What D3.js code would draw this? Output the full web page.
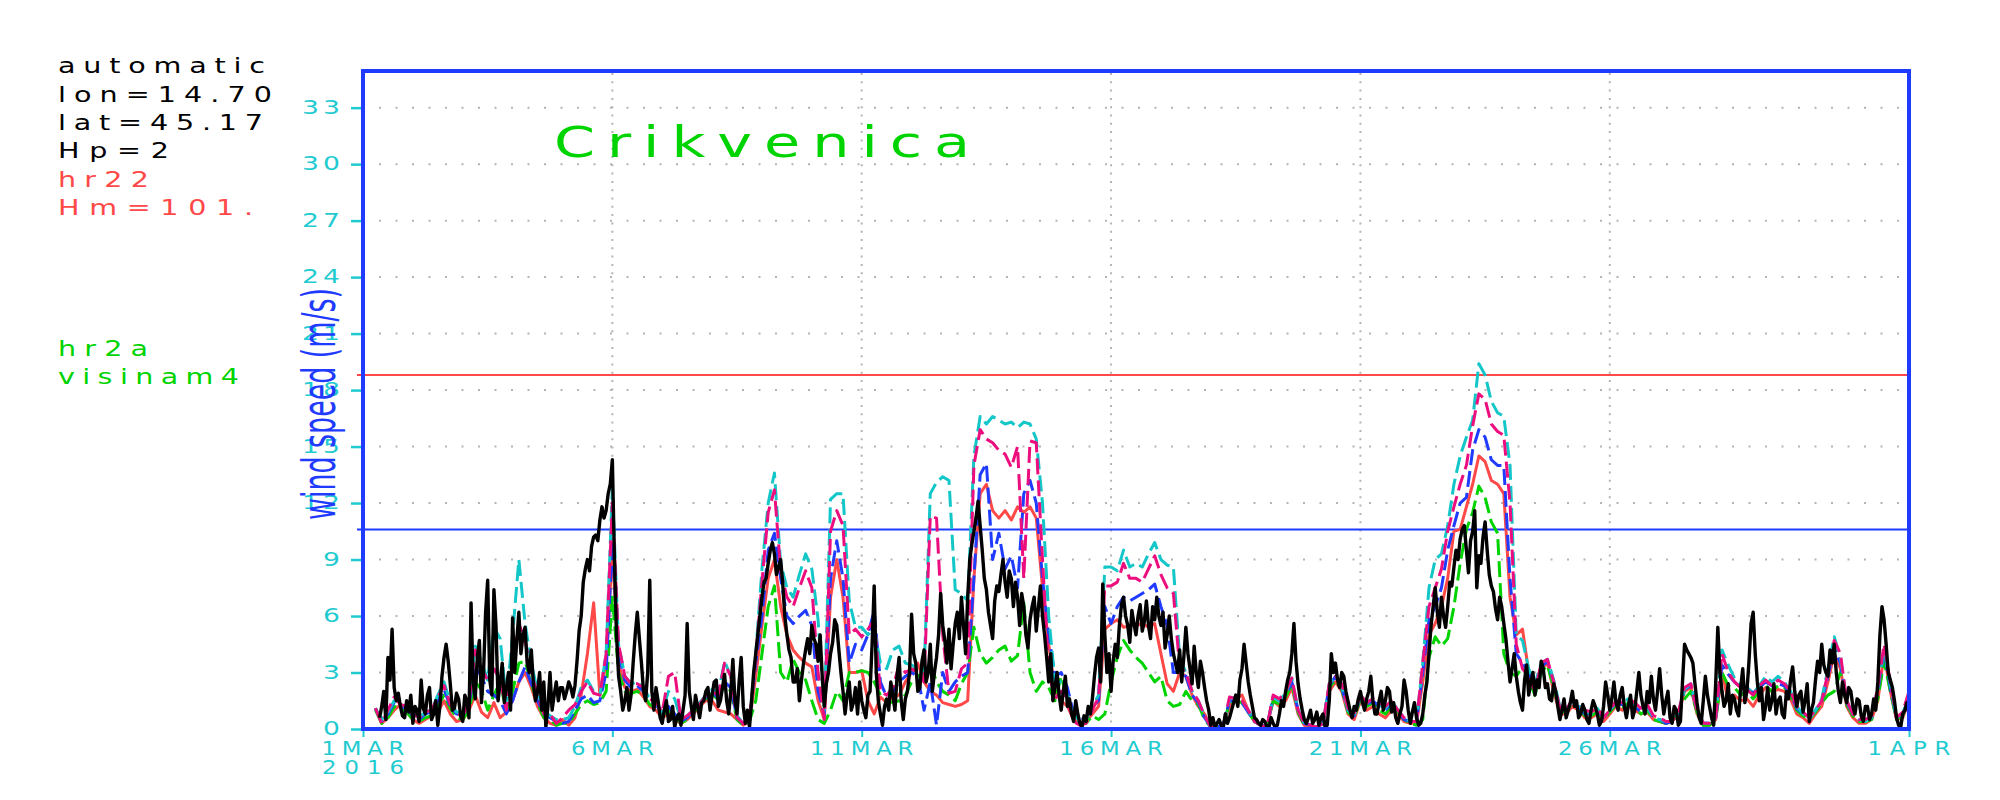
<!DOCTYPE html>
<html><head><meta charset="utf-8">
<script src="https://cdn.jsdelivr.net/npm/d3@7"></script>
<style>body{margin:0;background:#fff}svg{display:block}</style>
</head><body>
<svg id="chart" width="2000" height="800"></svg>
<script>
// ---------------- data ----------------
const titleText = "Crikvenica";
const yLabelText = "wind speed (m/s)";
const infoLines = ["automatic", "lon=14.70", "lat=45.17", "Hp=2", "hr22", "Hm=101."];
const modelNames = ["hr2a", "visinam4"];
const xTickDates = ["2016-03-01", "2016-03-06", "2016-03-11", "2016-03-16", "2016-03-21", "2016-03-26", "2016-04-01"];
const xTickLabels = ["1MAR", "6MAR", "11MAR", "16MAR", "21MAR", "26MAR", "1APR"];
const yearLabel = "2016";
const yTicks = [0, 3, 6, 9, 12, 15, 18, 21, 24, 27, 30, 33];
const thresholdValues = [18.8, 10.6];
const modelStart = "2016-03-01T06:00:00Z";
const modelStepHours = 3;
const obsStart = "2016-03-01T08:00:00Z";
const obsStepHours = 1;

const red = [
1.1,0.3,0.6,1.0,1.3,0.9,
0.5,0.3,0.5,0.7,0.9,1.5,0.8,0.4,
0.5,1.0,1.8,0.9,0.6,1.4,0.6,0.9,
1.5,2.5,3.0,2.2,1.2,0.6,0.3,0.2,
0.5,0.2,0.6,1.8,4.0,6.7,1.8,3.5,
9.5,3.5,2.2,2.0,2.1,1.7,1.2,1.0,
0.6,0.8,0.5,0.3,0.5,0.8,1.2,1.5,
1.5,1.0,0.9,0.8,0.5,0.2,0.4,2.8,
5.5,8.0,9.0,6.5,5.0,4.2,3.8,3.5,
3.3,1.5,0.5,7.0,9.0,7.0,3.0,3.0,
3.1,1.5,0.8,1.7,1.4,1.7,1.8,2.5,
3.0,3.5,2.5,2.0,1.8,1.4,1.3,1.2,
1.3,1.5,8.0,12.5,13.0,11.6,11.2,11.6,
11.1,11.8,11.5,11.8,11.2,7.5,4.5,2.0,
1.5,1.2,0.5,0.3,0.4,0.8,1.2,5.3,
5.6,5.8,5.4,5.5,5.5,5.6,5.4,5.6,
4.0,2.4,2.0,3.0,2.8,1.8,1.2,0.8,
0.1,0.1,0.2,1.2,1.6,1.8,1.0,0.4,
0.2,0.1,1.5,1.2,1.5,2.2,0.8,0.2,
0.1,0.1,0.3,2.0,2.5,2.0,0.8,0.5,
1.5,1.0,1.2,0.8,0.6,1.0,0.8,0.4,
0.3,0.3,2.5,5.0,5.6,6.5,8.0,10.5,
10.6,11.8,13.0,14.5,14.2,13.2,13.0,12.5,
7.0,5.0,5.3,3.0,2.0,3.2,3.5,2.0,
0.8,0.8,1.2,1.0,0.6,0.6,0.8,0.4,
0.8,1.2,1.0,1.2,1.0,0.8,0.9,0.5,
0.4,0.3,0.4,0.8,2.0,2.2,0.8,0.2,
0.2,0.5,3.0,1.5,1.8,1.5,1.6,1.2,
1.8,2.2,2.0,2.1,2.0,1.6,0.8,0.6,
0.3,0.8,1.2,2.5,4.0,3.2,1.2,0.6,
0.3,0.3,0.5,1.5,4.0,2.0,0.5,0.6,
1.5];

const blue = [
1.1,0.4,0.8,1.4,1.2,1.1,
0.7,0.5,0.8,0.9,1.5,2.1,1.2,0.8,
0.7,1.3,3.3,2.8,2.0,1.8,1.5,0.8,
1.5,2.5,3.3,2.4,1.5,0.8,0.6,0.4,
0.3,0.4,1.0,1.6,1.8,1.4,1.5,3.0,
10.0,4.0,2.6,2.2,2.3,2.0,1.5,1.3,
0.8,1.2,0.8,0.4,0.6,1.0,1.3,1.7,
2.0,1.6,2.5,2.2,0.6,0.3,0.5,3.5,
6.0,9.5,10.4,8.0,6.0,5.6,6.0,6.3,
5.5,2.0,0.8,8.0,10.0,8.0,3.5,4.5,
4.2,5.0,6.3,2.5,1.7,2.0,2.5,2.8,
3.0,2.8,1.0,2.5,0.2,3.0,2.0,2.5,
2.8,3.0,8.0,13.5,14.1,9.0,10.4,8.5,
9.2,7.5,12.5,13.2,12.0,8.0,5.0,2.8,
3.0,2.2,0.8,0.5,0.6,1.2,1.5,6.5,
5.6,6.5,7.0,6.8,7.0,7.2,7.4,7.7,
6.5,5.5,3.0,3.0,2.8,1.8,1.4,0.6,
0.1,0.1,0.2,1.5,1.5,1.4,0.9,0.4,
0.2,0.1,1.7,1.5,1.8,2.5,1.0,0.3,
0.2,0.1,0.3,2.3,2.8,2.2,1.0,0.7,
1.7,1.3,1.5,1.2,1.0,1.4,1.0,0.5,
0.4,0.4,3.0,5.8,6.5,7.5,9.5,10.8,
12.0,12.3,14.8,15.9,15.5,14.3,14.0,14.0,
8.0,4.0,3.5,3.0,2.2,3.3,3.6,2.5,
1.0,1.0,1.5,1.2,0.8,0.8,1.0,0.6,
1.0,1.4,1.3,1.5,1.2,0.9,1.2,0.6,
0.5,0.3,0.4,0.8,2.1,2.3,1.0,0.3,
0.3,0.6,3.4,2.9,2.5,2.2,2.2,1.9,
2.2,2.5,2.3,2.4,2.3,1.9,1.1,0.8,
0.6,1.0,1.5,2.8,4.3,3.5,1.4,0.8,
0.5,0.5,0.6,2.0,4.2,2.2,0.6,0.8,
1.7];

const magenta = [
1.1,0.3,1.0,1.7,1.3,1.2,
0.8,0.6,0.9,1.0,1.7,2.3,1.3,0.8,
0.7,1.4,4.2,3.2,2.6,3.2,2.6,1.0,
3.5,5.6,4.7,3.0,1.8,0.8,0.8,0.3,
0.6,1.0,1.3,2.0,2.5,1.9,1.8,4.0,
12.0,4.5,2.8,2.4,2.4,2.2,1.6,1.4,
0.9,2.8,3.0,0.5,0.7,1.0,1.3,1.8,
2.0,1.8,3.5,2.8,0.6,0.3,0.5,3.8,
7.8,11.5,12.7,8.4,7.0,6.5,7.5,8.4,
7.5,3.0,0.5,10.5,11.6,10.8,5.0,5.3,
4.9,5.3,5.8,2.0,1.8,2.2,3.4,3.0,
3.2,3.0,2.5,11.3,11.2,5.0,1.9,2.0,
3.2,3.5,14.0,15.9,15.4,15.2,14.8,14.6,
13.9,15.0,8.0,15.3,15.2,9.0,3.0,1.6,
2.0,1.5,0.4,0.2,0.3,1.0,1.7,7.6,
7.6,7.8,8.8,8.0,8.0,7.8,8.5,9.2,
8.2,7.5,7.2,3.3,3.0,2.0,1.5,0.7,
0.1,0.1,0.2,1.7,1.6,1.5,1.0,0.4,
0.2,0.1,1.8,1.6,2.0,2.7,1.0,0.3,
0.2,0.1,0.3,2.4,2.8,2.4,1.1,0.8,
1.8,1.4,1.6,1.4,1.2,1.5,1.0,0.6,
0.4,0.4,3.5,6.5,7.5,8.5,10.5,11.8,
13.0,14.0,16.1,17.8,17.5,16.2,15.8,15.6,
12.0,4.5,3.2,2.8,2.0,3.5,3.7,2.5,
1.1,1.0,1.6,1.3,1.0,0.9,1.1,0.6,
1.0,1.5,1.4,1.6,1.4,1.1,1.3,0.7,
0.6,0.4,0.4,0.9,2.2,2.4,1.0,0.3,
0.3,0.6,4.0,3.0,2.5,2.2,2.1,1.8,
2.3,2.6,2.3,2.6,2.4,2.0,1.2,0.9,
0.6,1.0,1.5,3.0,4.7,4.0,1.5,0.8,
0.5,0.5,0.7,2.2,4.5,2.5,0.6,0.9,
2.0];

const cyan = [
1.1,0.5,0.9,1.5,1.3,1.2,
0.8,0.6,0.9,1.0,1.8,2.5,1.4,0.9,
0.8,1.5,4.4,3.6,2.6,5.4,4.8,1.5,
5.0,9.0,5.6,3.5,2.0,1.0,0.7,0.5,
0.5,0.6,1.2,2.2,2.6,2.0,1.8,4.0,
12.8,4.5,2.8,2.4,2.5,2.2,1.6,1.4,
0.9,2.0,1.6,0.5,0.7,1.0,1.4,1.8,
2.1,1.9,3.6,2.8,0.7,0.3,0.5,4.0,
8.5,12.0,13.6,8.8,7.5,7.0,8.2,9.3,
8.5,5.8,1.0,12.2,12.5,12.5,6.8,5.4,
5.4,5.0,5.4,3.5,3.2,4.2,4.4,3.5,
3.4,3.2,3.0,12.5,13.1,13.4,13.2,7.4,
7.2,6.8,14.5,16.6,16.2,16.6,16.4,16.2,
16.3,16.0,16.3,16.2,15.4,12.0,6.0,2.5,
2.5,1.8,0.8,0.4,0.5,1.2,1.8,8.6,
8.6,8.4,9.5,8.6,8.8,8.6,9.3,9.9,
9.0,8.7,8.6,3.8,3.0,2.0,1.5,0.7,
0.1,0.1,0.2,1.6,1.7,1.5,1.0,0.4,
0.2,0.1,1.7,1.5,1.9,2.7,1.0,0.3,
0.2,0.1,0.3,2.4,2.8,2.3,1.0,0.7,
1.8,1.4,1.6,1.3,1.1,1.5,1.0,0.6,
0.4,0.4,3.5,7.5,9.0,9.3,10.8,13.0,
14.5,15.5,16.4,19.4,18.8,17.4,16.8,16.6,
14.0,5.0,4.7,3.2,2.4,3.5,3.7,2.6,
1.2,1.0,1.5,1.3,0.9,0.8,1.1,0.6,
1.0,1.5,1.4,1.6,1.3,1.0,1.2,0.6,
0.5,0.4,0.4,0.9,2.1,2.4,1.0,0.3,
0.3,0.6,4.2,3.4,2.7,2.3,2.2,1.9,
2.3,2.8,2.5,2.8,2.5,2.0,1.2,0.8,
0.5,1.0,1.6,3.2,4.9,3.8,1.5,0.8,
0.5,0.4,0.6,2.2,4.3,2.4,0.6,0.8,
1.8];

const green = [
1.0,0.3,0.6,1.2,1.1,0.9,
0.5,0.4,0.6,0.7,1.2,1.8,1.1,0.6,
0.5,1.0,2.5,2.1,1.0,1.8,2.5,0.9,
2.0,3.5,3.6,2.4,1.4,0.6,0.5,0.2,
0.3,0.3,0.8,1.3,1.5,1.3,1.4,2.0,
7.0,3.0,2.0,1.9,2.0,1.8,1.3,1.1,
0.7,1.0,0.7,0.3,0.5,0.9,1.2,1.6,
1.9,1.5,2.4,2.0,0.5,0.2,0.4,1.5,
4.0,6.5,7.6,3.0,2.5,3.7,3.0,2.6,
1.5,0.5,0.3,1.0,2.0,1.5,3.0,3.0,
3.1,3.0,2.5,1.8,1.5,1.4,1.5,1.8,
2.5,2.8,3.0,3.5,2.5,2.0,1.8,1.5,
2.4,3.0,5.4,4.0,3.5,3.8,4.2,4.4,
3.6,3.9,6.7,3.0,2.0,2.5,2.2,1.5,
2.8,1.6,0.7,0.3,0.3,0.7,0.5,0.8,
2.5,3.8,4.7,4.2,3.8,3.5,3.0,2.5,
2.8,1.5,1.2,1.3,2.0,1.5,1.3,0.5,
0.1,0.1,0.2,1.4,1.5,1.4,0.9,0.4,
0.2,0.1,1.5,1.3,1.7,2.4,0.9,0.2,
0.2,0.1,0.3,2.2,2.6,2.1,0.9,0.6,
1.6,1.2,1.4,1.0,0.8,1.2,0.9,0.5,
0.3,0.2,0.5,3.8,4.9,4.4,4.8,6.5,
8.8,10.6,11.5,12.9,12.3,11.0,10.4,4.0,
3.0,2.8,3.3,2.6,1.8,3.0,3.4,2.2,
0.9,0.9,1.4,1.1,0.7,0.7,0.9,0.5,
0.9,1.3,1.1,1.4,1.1,0.8,1.0,0.5,
0.4,0.3,0.4,0.8,1.6,2.0,0.9,0.2,
0.2,0.5,3.0,2.3,2.2,1.8,2.0,1.6,
2.0,2.3,2.0,2.3,2.2,1.8,1.0,0.7,
0.5,0.9,1.4,1.8,2.0,3.0,1.3,0.7,
0.4,0.4,0.5,1.6,3.6,2.0,0.5,0.7,
1.6];

const observed = [
0.6,1.2,2.0,0.5,3.8,2.6,5.3,2.2,1.5,1.9,1.2,0.7,0.6,1.5,0.9,1.8,
0.3,1.2,1.0,0.4,2.6,1.1,0.8,1.8,2.2,0.5,0.8,1.5,0.2,1.2,2.8,3.8,4.5,3.6,2.4,1.0,1.1,1.9,1.6,0.7,
0.4,1.8,1.5,0.6,6.7,2.5,1.6,3.8,4.7,1.4,3.0,6.2,7.9,2.6,1.8,7.4,5.5,1.5,2.5,3.5,1.4,2.2,3.0,1.0,
5.9,3.0,4.7,6.2,4.0,5.0,5.4,3.5,3.0,4.2,2.4,1.5,2.0,3.0,1.0,2.5,0.1,1.2,3.0,1.0,1.8,2.5,1.5,2.2,
2.2,1.6,2.0,2.5,2.2,1.7,2.3,3.6,5.2,6.0,7.8,8.5,9.0,8.4,9.7,10.2,10.3,10.0,11.1,11.8,11.2,11.6,12.5,13.0,
14.3,9.0,5.0,2.8,2.0,1.0,1.5,2.2,1.0,1.8,3.5,5.0,6.2,4.8,3.5,2.0,1.5,3.0,7.9,2.0,1.0,2.2,1.5,0.6,
0.3,1.0,1.5,0.4,0.5,1.2,0.1,0.6,0.8,0.2,1.0,1.8,5.6,2.0,1.2,0.5,1.8,1.2,0.6,1.4,1.5,2.0,2.2,1.0,
1.8,2.5,2.6,1.2,1.5,2.2,2.9,1.5,0.8,2.0,3.7,1.5,0.8,2.5,3.8,1.2,0.3,1.0,0.1,1.5,3.0,4.0,5.0,6.0,
7.0,7.8,8.0,8.8,9.5,9.9,9.3,8.2,8.6,9.0,7.7,6.0,5.0,4.2,3.8,2.5,2.5,3.2,1.5,2.6,3.5,4.2,4.8,4.0,
5.5,4.8,4.5,3.6,5.0,2.8,1.2,2.4,3.0,4.0,4.6,5.8,5.5,4.2,3.0,2.0,0.8,1.8,2.5,1.0,1.4,2.2,0.8,2.5,
1.5,1.0,0.6,1.8,2.0,4.5,7.6,3.0,1.5,0.8,0.2,1.2,1.6,1.0,2.5,1.8,1.0,2.8,3.8,1.5,0.5,1.6,2.0,3.0,
6.1,4.0,3.5,2.0,2.2,3.6,4.2,2.5,3.0,4.5,2.0,3.0,3.8,5.0,7.2,5.5,4.7,3.5,5.3,3.2,4.5,5.6,6.2,4.8,
7.0,5.5,4.0,7.0,9.0,9.8,10.5,11.2,12.1,10.8,9.5,8.0,7.4,6.2,5.5,4.8,6.8,7.6,7.3,8.2,9.0,7.8,7.0,8.4,
8.0,6.5,7.8,7.0,5.5,7.2,6.5,5.0,4.3,5.8,6.5,7.0,5.2,6.4,7.6,6.0,5.0,3.8,2.5,4.0,1.5,2.2,3.0,1.8,
1.0,2.0,2.8,1.2,1.6,0.8,0.4,1.5,0.8,0.3,0.1,0.7,0.4,1.2,0.8,1.6,2.8,3.8,4.3,2.5,7.7,5.0,3.0,4.0,
2.0,3.6,4.5,3.8,5.5,6.6,7.0,6.0,5.5,4.6,6.3,5.6,5.0,6.0,6.6,5.2,5.7,6.8,5.5,4.8,6.5,5.8,7.0,6.0,
5.5,6.2,4.3,5.0,6.0,4.8,4.0,3.5,3.0,4.2,2.5,3.8,5.4,4.0,3.2,2.4,4.4,3.0,2.2,3.6,3.0,2.2,1.5,1.0,
0.2,0.6,0.1,0.3,0.5,0.2,0.1,0.8,0.3,0.6,1.0,1.4,1.8,1.2,2.6,3.2,4.5,3.5,2.5,1.8,1.2,0.6,0.5,0.3,
0.2,0.5,0.4,0.1,0.1,0.6,0.3,0.1,0.2,0.8,1.5,1.2,2.0,2.6,3.0,4.0,5.6,3.6,2.4,1.6,1.0,0.5,0.3,0.6,
1.0,0.3,0.5,0.9,0.2,0.6,0.8,0.1,0.2,1.5,4.0,3.0,3.5,2.6,2.2,3.0,2.8,2.0,1.5,1.0,0.6,1.2,1.0,1.6,
2.0,1.4,1.0,1.6,2.0,2.8,1.5,0.8,0.8,1.5,2.0,1.0,1.5,2.2,2.0,0.9,1.4,0.6,0.3,0.8,1.2,2.6,2.0,1.0,
0.3,0.9,1.4,0.6,0.2,0.3,0.8,1.8,2.5,4.0,5.5,6.5,7.5,6.2,5.4,7.0,6.0,5.4,6.5,7.8,7.6,8.6,9.5,9.0,
10.1,10.6,10.8,9.5,8.3,10.0,10.5,11.6,7.5,9.2,8.8,10.2,11.0,9.5,8.2,7.6,7.3,6.4,5.8,7.0,6.5,5.6,4.8,3.6,
2.5,3.2,4.0,2.8,2.0,1.4,1.0,2.6,3.4,1.8,2.5,3.0,1.8,2.6,2.2,3.6,3.2,2.2,2.4,1.6,1.5,2.4,2.0,1.2,
0.5,1.0,1.6,0.6,1.0,1.4,2.0,1.2,1.5,0.6,0.8,1.3,1.0,0.5,0.3,1.0,1.5,1.2,0.8,0.2,0.4,1.2,2.5,1.8,
1.0,1.6,2.5,1.4,1.0,1.8,2.2,1.2,0.6,1.3,1.8,0.6,1.0,2.0,3.0,1.8,1.2,0.8,2.0,1.4,2.8,1.6,1.0,2.0,
3.2,1.8,0.8,1.5,2.0,0.6,0.3,1.2,1.0,0.2,0.4,2.5,4.5,4.2,4.0,3.8,3.5,2.4,1.4,0.6,0.3,1.5,2.8,1.8,
1.2,0.6,0.2,2.5,5.4,3.0,2.0,1.2,1.5,2.4,0.8,1.8,1.6,1.0,0.7,2.2,3.2,1.4,2.0,3.6,5.6,6.2,4.0,2.5,
1.5,2.2,0.5,1.2,2.2,1.0,1.5,2.4,0.8,1.5,1.7,0.8,0.6,2.0,1.6,2.6,3.3,2.0,1.2,1.8,2.0,0.9,1.5,2.4,
0.4,1.0,1.4,2.6,3.6,3.0,4.5,3.4,3.0,2.8,4.2,3.5,4.5,3.0,2.0,1.4,2.5,1.8,1.4,2.2,2.0,1.2,0.8,1.6,
1.5,0.7,0.4,1.2,1.2,0.5,0.8,1.6,1.0,2.5,5.0,6.5,5.8,4.5,3.0,2.6,2.2,1.5,0.6,0.2,0.1,0.8,1.0,1.4,
0.8];

// ---------------- layout ----------------
const W = 2000, H = 800;
const plot = {left: 363, right: 1909, top: 71, bottom: 729};
const C = {
  frame: "#1f3bff", cyanText: "#1fcbd0", grid: "#b4b4b4",
  red: "#ff4848", blue: "#1f3bff", magenta: "#ec0e7e", cyan: "#13c6c8", green: "#00d400", black: "#000"
};
const FONT = "'DejaVu Sans', 'Liberation Sans', sans-serif";

const svg = d3.select("#chart");
svg.append("rect").attr("width", W).attr("height", H).attr("fill", "#fff");

const x = d3.scaleUtc()
  .domain([new Date("2016-03-01T00:00:00Z"), new Date("2016-04-01T00:00:00Z")])
  .range([plot.left, plot.right]);
const y = d3.scaleLinear().domain([0, 35]).range([plot.bottom, 70]);

function toPoints(values, start, stepH) {
  const t0 = new Date(start).getTime();
  return values.map((v, i) => ({t: new Date(t0 + i * stepH * 3600e3), v}));
}

// wide, letter-spaced text (imitates the plotting program's stroke font)
function wideText(str, left, baseline, width, size, color, hs) {
  const g = svg.append("g").attr("transform", `translate(${left},${baseline}) scale(${hs},1)`);
  const t = g.append("text").attr("x", 0).attr("y", 0)
    .attr("font-size", size).attr("font-family", FONT).attr("fill", color).text(str);
  const n = str.length;
  const N = t.node().getComputedTextLength();
  if (n > 1 && width != null) t.attr("letter-spacing", (width / hs - N) / (n - 1));
  return t;
}
function measure(str, size, hs) {
  const t = svg.append("text").attr("font-size", size).attr("font-family", FONT).text(str);
  const w = t.node().getComputedTextLength() * hs; t.remove(); return w;
}

// grid
const tickDates = xTickDates.map(s => new Date(s + "T00:00:00Z"));
svg.append("g").selectAll("line").data(yTicks.filter(v => v > 0)).join("line")
  .attr("x1", plot.left + 16).attr("x2", plot.right)
  .attr("y1", d => y(d)).attr("y2", d => y(d))
  .attr("stroke", C.grid).attr("stroke-width", 2).attr("stroke-dasharray", "2,14.5");
svg.append("g").selectAll("line").data(tickDates.slice(1, -1)).join("line")
  .attr("x1", d => x(d)).attr("x2", d => x(d))
  .attr("y1", plot.top + 2).attr("y2", plot.bottom)
  .attr("stroke", C.grid).attr("stroke-width", 2).attr("stroke-dasharray", "2,6.3");

// threshold lines
const thresholdColors = [C.red, C.blue];
svg.append("g").selectAll("line").data(thresholdValues).join("line")
  .attr("x1", plot.left - 6).attr("x2", plot.right)
  .attr("y1", d => y(d)).attr("y2", d => y(d))
  .attr("stroke", (d, i) => thresholdColors[i]).attr("stroke-width", 2);

// series
const line = d3.line().x(d => x(d.t)).y(d => y(d.v));
const models = [
  {values: red, color: C.red, dash: null},
  {values: green, color: C.green, dash: "16,6"},
  {values: blue, color: C.blue, dash: "16,6"},
  {values: cyan, color: C.cyan, dash: "16,6"},
  {values: magenta, color: C.magenta, dash: "16,6"}
];
const gData = svg.append("g");
models.forEach(m => {
  gData.append("path").datum(toPoints(m.values, modelStart, modelStepHours))
    .attr("d", line).attr("fill", "none").attr("stroke", m.color)
    .attr("stroke-width", 3).attr("stroke-linejoin", "round")
    .attr("stroke-dasharray", m.dash);
});
gData.append("path").datum(toPoints(observed, obsStart, obsStepHours))
  .attr("d", line).attr("fill", "none").attr("stroke", C.black)
  .attr("stroke-width", 3.4).attr("stroke-linejoin", "round");

// frame
svg.append("rect").attr("x", plot.left).attr("y", plot.top)
  .attr("width", plot.right - plot.left).attr("height", plot.bottom - plot.top)
  .attr("fill", "none").attr("stroke", C.frame).attr("stroke-width", 4);

// y axis (tick marks from d3 axis, labels drawn wide)
const gy = svg.append("g").attr("transform", `translate(${plot.left - 2},0)`)
  .call(d3.axisLeft(y).tickValues(yTicks).tickSize(10).tickFormat(""));
gy.select(".domain").remove();
gy.selectAll(".tick line").attr("stroke", C.cyanText).attr("stroke-width", 2.5);
const NUM_HS = 1.4, NUM_SIZE = 19;
yTicks.forEach(v => {
  const s = String(v);
  const w = s.length > 1 ? 38 : measure(s, NUM_SIZE, NUM_HS);
  wideText(s, 340 - w, y(v) + 6, w, NUM_SIZE, C.cyanText, NUM_HS);
});

// x axis
const gx = svg.append("g").attr("transform", `translate(0,${plot.bottom + 2})`)
  .call(d3.axisBottom(x).tickValues(tickDates).tickSize(6).tickFormat(""));
gx.select(".domain").remove();
gx.selectAll(".tick line").attr("stroke", C.cyanText).attr("stroke-width", 2);
xTickLabels.forEach((s, i) => {
  const w = s.length * 20.7;
  wideText(s, x(tickDates[i]) - w / 2, 755, w, NUM_SIZE, C.cyanText, 1.2);
});
wideText(yearLabel, x(tickDates[0]) - 41, 774, 82, NUM_SIZE, C.cyanText, 1.2);

// y label
svg.append("text").attr("transform", "translate(335,404) rotate(-90)")
  .attr("text-anchor", "middle").attr("fill", C.frame)
  .attr("font-size", 46).attr("font-family", "'Liberation Sans Narrow', 'DejaVu Sans Condensed', 'Liberation Sans', sans-serif")
  .attr("textLength", 232).attr("lengthAdjust", "spacingAndGlyphs").text(yLabelText);

// title
wideText(titleText, 554, 157, 416, 42, C.green, 1.4);

// info text
const infoColors = ["#000", "#000", "#000", "#000", C.red, C.red];
const infoWidths = [207, 214, 205, 111, 91, 195];
const infoBase = [73, 102, 130, 158, 187, 215];
infoLines.forEach((s, i) => wideText(s, 58, infoBase[i], infoWidths[i], 22, infoColors[i], 1.3));
const modelWidths = [90, 181];
const modelBase = [356, 384];
modelNames.forEach((s, i) => wideText(s, 58, modelBase[i], modelWidths[i], 22, C.green, 1.3));
</script>
</body></html>
